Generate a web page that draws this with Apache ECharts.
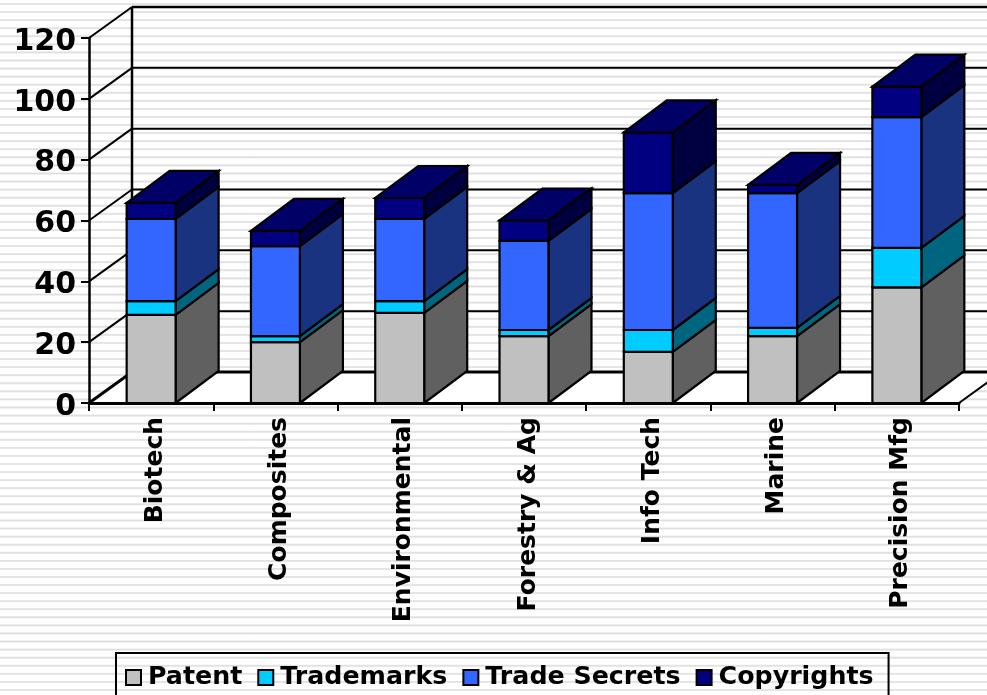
<!DOCTYPE html>
<html>
<head>
<meta charset="utf-8">
<style>
html,body{margin:0;padding:0;width:987px;height:695px;overflow:hidden;background:#fff repeating-linear-gradient(180deg,#ffffff 0px,#ffffff 2.6px,#e9e9e9 3.2px,#dedede 4px,#e9e9e9 4.8px,#ffffff 5.4px,#ffffff 8.07px);}
#c{width:987px;height:695px;}
</style>
<script src="https://cdn.jsdelivr.net/npm/echarts@6/dist/echarts.min.js"></script>
</head>
<body>
<div id="c"></div>
<script>
const categories = ['Biotech','Composites','Environmental','Forestry & Ag','Info Tech','Marine','Precision Mfg'];
const patent       = [29, 20, 29.6, 22, 16.8, 22, 38];
const trademarks   = [4.5, 2, 3.9, 2, 7.2, 2.7, 13];
const tradeSecrets = [27, 29.6, 27, 29.3, 45, 44.3, 43];
const copyrights   = [5.3, 5, 6.9, 6.7, 20, 2.7, 10];
const yTicks = [0, 20, 40, 60, 80, 100, 120];
const seriesNames = ['Patent','Trademarks','Trade Secrets','Copyrights'];
const seriesValues = [patent, trademarks, tradeSecrets, copyrights];
const frontColors = ['#C0C0C0','#00CCFF','#3366FF','#000080'];
const sideColors  = ['#606060','#006680','#1A3380','#000040'];
const topColor = '#000066';
const FONT = '"DejaVu Sans", Verdana, sans-serif';
const WALL = [43, -31];
const BAR = [43, -32];
const BAR_RATIO = 0.394;

function wallItem(params, api) {
  const cs = params.coordSys;
  const v = api.value(0);
  const y = api.coord([0, v])[1];
  const l = cs.x, r = cs.x + cs.width;
  const kids = [];
  const ln = (x1, y1, x2, y2, w) => ({type:'line', shape:{x1,y1,x2,y2}, style:{stroke:'#000', lineWidth:w, fill:null}, silent:true});
  if (v === 0) {
    kids.push({type:'polygon', shape:{points:[[l,y],[l+WALL[0],y+WALL[1]],[r+WALL[0],y+WALL[1]],[r,y]]}, style:{fill:'#fff', stroke:null}, silent:true});
    kids.push(ln(r, y, r+WALL[0], y+WALL[1], 2));
  }
  const top = yTicks[yTicks.length-1];
  if (v === top) {
    kids.push(ln(l+WALL[0], y+WALL[1], l+WALL[0], api.coord([0,0])[1]+WALL[1], 2.5));
  }
  kids.push(ln(l, y, l+WALL[0], y+WALL[1], v === 0 ? 3 : 2));
  kids.push(ln(l+WALL[0], y+WALL[1], r+WALL[0], y+WALL[1], v === 0 ? 3 : (v === top ? 2.5 : 2)));
  return {type:'group', children:kids};
}

function barItem(si) {
  return function (params, api) {
    const i = api.value(0);
    const c0 = api.coord([i, api.value(1)]);
    const c1 = api.coord([i, api.value(2)]);
    const w = api.size([1, 0])[0] * BAR_RATIO;
    const l = c0[0] - w/2, r = c0[0] + w/2;
    const b = c0[1], t = c1[1];
    const st = (fill) => ({fill, stroke:'#000', lineWidth:2.2, lineJoin:'miter'});
    const kids = [
      {type:'polygon', shape:{points:[[r,b],[r+BAR[0],b+BAR[1]],[r+BAR[0],t+BAR[1]],[r,t]]}, style:st(sideColors[si])},
      {type:'polygon', shape:{points:[[l,b],[r,b],[r,t],[l,t]]}, style:st(frontColors[si])}
    ];
    if (si === seriesValues.length - 1) {
      kids.push({type:'polygon', shape:{points:[[l,t],[r,t],[r+BAR[0],t+BAR[1]],[l+BAR[0],t+BAR[1]]]}, style:st(topColor)});
    }
    return {type:'group', children:kids};
  };
}

const cum = categories.map(() => 0);
const barSeries = seriesNames.map((name, si) => ({
  name,
  type:'custom',
  coordinateSystem:'cartesian2d',
  clip:false,
  z:3+si,
  silent:true,
  itemStyle:{color:frontColors[si]},
  encode:{x:0, y:[1,2]},
  renderItem:barItem(si),
  data:seriesValues[si].map((v,i) => { const base = cum[i]; cum[i] += v; return [i, base, base+v]; })
}));

const chart = echarts.init(document.getElementById('c'), null, {renderer:'canvas'});
chart.setOption({
  animation:false,
  backgroundColor:'transparent',
  grid:{left:89, top:38, width:870, height:365},
  xAxis:{
    type:'category', data:categories, z:8,
    axisLine:{lineStyle:{color:'#000', width:3}},
    axisTick:{show:true, length:8, lineStyle:{color:'#000', width:2}, alignWithLabel:false},
    axisLabel:{rotate:90, interval:0, color:'#000', fontFamily:FONT, fontWeight:'bold', fontSize:25, margin:14, verticalAlign:'top', lineHeight:8},
    splitLine:{show:false}
  },
  yAxis:{
    type:'value', min:0, max:120, interval:20, z:8,
    axisLine:{show:true, lineStyle:{color:'#000', width:2.5}},
    axisTick:{show:true, length:8, lineStyle:{color:'#000', width:2}},
    axisLabel:{color:'#000', fontFamily:FONT, fontWeight:'bold', fontSize:30, margin:13, verticalAlign:'top', lineHeight:8},
    splitLine:{show:false}
  },
  legend:{
    left:116, top:653, orient:'horizontal',
    padding:[12,15,10,9],
    borderColor:'#000', borderWidth:2,
    backgroundColor:'transparent',
    itemWidth:15, itemHeight:15, itemGap:15,
    selectedMode:false,
    textStyle:{color:'#000', fontFamily:FONT, fontWeight:'bold', fontSize:25.3, padding:[0,0,0,2]},
    data:seriesNames.map((name,si) => ({name, icon:'rect', itemStyle:{color:frontColors[si], borderColor:'#000', borderWidth:2}}))
  },
  series:[{
    name:'walls', type:'custom', coordinateSystem:'cartesian2d', clip:false, z:1, silent:true,
    encode:{x:-1, y:0},
    renderItem:wallItem,
    data:yTicks.map(v => [v])
  }].concat(barSeries)
});
</script>
</body>
</html>
